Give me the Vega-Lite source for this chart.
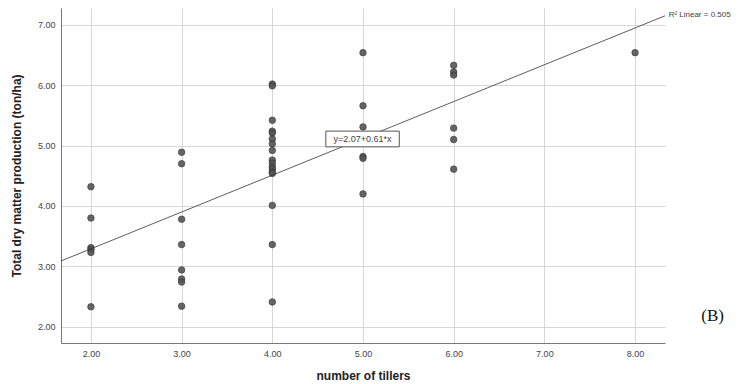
{
  "$schema": "https://vega.github.io/schema/vega-lite/v6.json",
  "width": 604,
  "height": 335,
  "autosize": "none",
  "padding": {"left": 61, "top": 8, "right": 79, "bottom": 41},
  "background": "white",
  "config": {
    "view": {"stroke": null},
    "font": "Liberation Sans",
    "axis": {
      "gridColor": "#d6d6d6",
      "gridWidth": 1,
      "domainColor": "#777777",
      "domainWidth": 1,
      "ticks": false,
      "labelColor": "#444444",
      "labelFont": "Liberation Sans",
      "labelFontSize": 9,
      "titleFont": "Liberation Sans",
      "titleFontSize": 12,
      "titleFontWeight": "bold",
      "titleColor": "#222222"
    }
  },
  "datasets": {
    "points": [
      {"tillers": 2, "dm": 4.32}, {"tillers": 2, "dm": 3.80}, {"tillers": 2, "dm": 3.31}, {"tillers": 2, "dm": 3.28}, {"tillers": 2, "dm": 3.23}, {"tillers": 2, "dm": 2.33},
      {"tillers": 3, "dm": 4.89}, {"tillers": 3, "dm": 4.70}, {"tillers": 3, "dm": 3.78}, {"tillers": 3, "dm": 3.36}, {"tillers": 3, "dm": 2.94}, {"tillers": 3, "dm": 2.79}, {"tillers": 3, "dm": 2.74}, {"tillers": 3, "dm": 2.34},
      {"tillers": 4, "dm": 6.02}, {"tillers": 4, "dm": 5.99}, {"tillers": 4, "dm": 5.42}, {"tillers": 4, "dm": 5.24}, {"tillers": 4, "dm": 5.21}, {"tillers": 4, "dm": 5.11}, {"tillers": 4, "dm": 5.03}, {"tillers": 4, "dm": 4.92}, {"tillers": 4, "dm": 4.76}, {"tillers": 4, "dm": 4.71}, {"tillers": 4, "dm": 4.65}, {"tillers": 4, "dm": 4.61}, {"tillers": 4, "dm": 4.56}, {"tillers": 4, "dm": 4.54}, {"tillers": 4, "dm": 4.01}, {"tillers": 4, "dm": 3.36}, {"tillers": 4, "dm": 2.41},
      {"tillers": 5, "dm": 6.54}, {"tillers": 5, "dm": 5.66}, {"tillers": 5, "dm": 5.31}, {"tillers": 5, "dm": 4.82}, {"tillers": 5, "dm": 4.79}, {"tillers": 5, "dm": 4.20},
      {"tillers": 6, "dm": 6.33}, {"tillers": 6, "dm": 6.22}, {"tillers": 6, "dm": 6.17}, {"tillers": 6, "dm": 5.29}, {"tillers": 6, "dm": 5.10}, {"tillers": 6, "dm": 4.61},
      {"tillers": 8, "dm": 6.54}
    ],
    "fit": [
      {"tillers": 1.67, "dm": 3.089},
      {"tillers": 8.33, "dm": 7.151}
    ],
    "eqbox": [
      {"tillers": 4.59, "tillers2": 5.40, "dm": 4.98, "dm2": 5.24, "label": "y=2.07+0.61*x", "cx": 4.995, "cy": 5.11}
    ],
    "notes": [
      {"tillers": 8.37, "dm": 7.17, "label": "R² Linear = 0.505"}
    ],
    "panel": [
      {"tillers": 8.73, "dm": 2.17, "label": "(B)"}
    ]
  },
  "layer": [
    {
      "data": {"name": "points"},
      "mark": {"type": "circle", "size": 42, "color": "#555555", "stroke": "#333333", "strokeWidth": 0.8, "opacity": 0.9},
      "encoding": {
        "x": {
          "field": "tillers", "type": "quantitative",
          "scale": {"domain": [1.67, 8.33], "nice": false, "zero": false},
          "axis": {"values": [2, 3, 4, 5, 6, 7, 8], "format": ".2f", "title": "number of tillers", "labelPadding": 6, "titlePadding": 12}
        },
        "y": {
          "field": "dm", "type": "quantitative",
          "scale": {"domain": [1.73, 7.28], "nice": false, "zero": false},
          "axis": {"values": [2, 3, 4, 5, 6, 7], "format": ".2f", "title": "Total dry matter production (ton/ha)", "labelPadding": 6, "titlePadding": 14}
        }
      }
    },
    {
      "data": {"name": "fit"},
      "mark": {"type": "line", "color": "#333333", "strokeWidth": 0.8},
      "encoding": {
        "x": {"field": "tillers", "type": "quantitative"},
        "y": {"field": "dm", "type": "quantitative"}
      }
    },
    {
      "data": {"name": "eqbox"},
      "mark": {"type": "rect", "fill": "white", "stroke": "#555555", "strokeWidth": 1},
      "encoding": {
        "x": {"field": "tillers", "type": "quantitative"},
        "x2": {"field": "tillers2"},
        "y": {"field": "dm", "type": "quantitative"},
        "y2": {"field": "dm2"}
      }
    },
    {
      "data": {"name": "eqbox"},
      "mark": {"type": "text", "fontSize": 9, "color": "#444444", "align": "center", "baseline": "middle"},
      "encoding": {
        "x": {"field": "cx", "type": "quantitative"},
        "y": {"field": "cy", "type": "quantitative"},
        "text": {"field": "label"}
      }
    },
    {
      "data": {"name": "notes"},
      "mark": {"type": "text", "fontSize": 8, "color": "#444444", "align": "left", "baseline": "middle"},
      "encoding": {
        "x": {"field": "tillers", "type": "quantitative"},
        "y": {"field": "dm", "type": "quantitative"},
        "text": {"field": "label"}
      }
    },
    {
      "data": {"name": "panel"},
      "mark": {"type": "text", "fontSize": 17, "font": "Liberation Serif", "color": "#111111", "align": "left", "baseline": "middle"},
      "encoding": {
        "x": {"field": "tillers", "type": "quantitative"},
        "y": {"field": "dm", "type": "quantitative"},
        "text": {"field": "label"}
      }
    }
  ]
}
